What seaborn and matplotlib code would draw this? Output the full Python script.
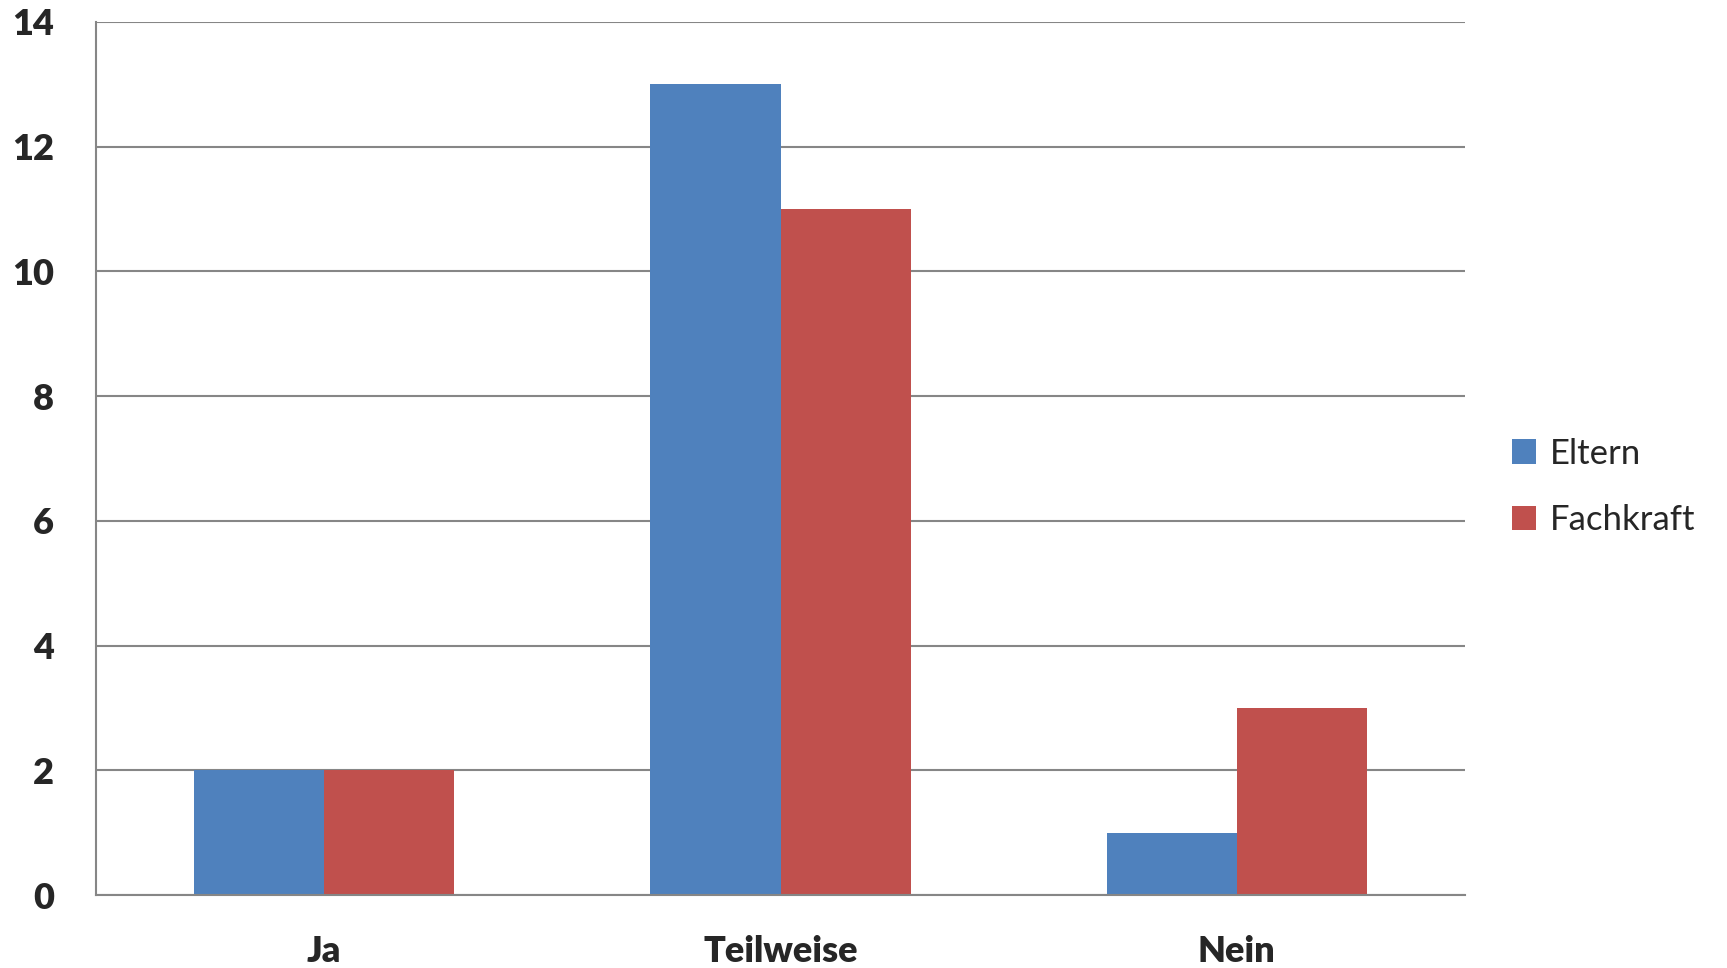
import matplotlib

matplotlib.use("Agg")
import matplotlib.pyplot as plt
import pandas as pd
import seaborn as sns
from matplotlib.ticker import FixedLocator

categories = ["Ja", "Teilweise", "Nein"]
series = ["Eltern", "Fachkraft"]
eltern = [2, 13, 1]
fachkraft = [2, 11, 3]
colors = ["#4F81BD", "#C0504D"]

df = pd.DataFrame(
    {
        "Antwort": categories * 2,
        "Gruppe": [series[0]] * 3 + [series[1]] * 3,
        "Anzahl": eltern + fachkraft,
    }
)

sns.set_style("white")
plt.rcParams["font.family"] = ["Lato", "DejaVu Sans"]

fig = plt.figure(figsize=(17.27, 9.68), dpi=100)
ax = fig.add_axes([0.0556, 0.0754, 0.7927, 0.9019])

sns.barplot(
    data=df,
    x="Antwort",
    y="Anzahl",
    hue="Gruppe",
    order=categories,
    hue_order=series,
    palette=colors,
    width=0.57,
    saturation=1,
    linewidth=0,
    ax=ax,
    zorder=3,
)

ax.set_xlim(-0.5, 2.5)
ax.set_ylim(0, 14)
ax.set_yticks(range(0, 15, 2))
ax.grid(axis="y", color="#868686", linewidth=1.5, zorder=0)
for side in ["top", "right"]:
    ax.spines[side].set_visible(False)
for side in ["left", "bottom"]:
    ax.spines[side].set_color("#868686")
    ax.spines[side].set_linewidth(1.5)
    ax.spines[side].set_zorder(4)

ax.set_xlabel("")
ax.set_ylabel("")
ax.tick_params(axis="y", which="major", length=10, width=1.5, color="#868686",
               pad=20, labelsize=26)
ax.tick_params(axis="x", which="major", length=0, pad=29, labelsize=26)
ax.xaxis.set_minor_locator(FixedLocator([-0.5, 0.5, 1.5, 2.5]))
ax.tick_params(axis="x", which="minor", length=10, width=1.5, color="#868686")
for lbl in ax.get_xticklabels() + ax.get_yticklabels():
    lbl.set_fontweight("heavy")

handles, labels = ax.get_legend_handles_labels()
ax.get_legend().remove()
fig.legend(
    handles,
    labels,
    loc="center left",
    bbox_to_anchor=(0.8575, 0.497),
    frameon=False,
    fontsize=25,
    handlelength=0.7,
    handleheight=0.7,
    handletextpad=0.4,
    labelspacing=1.0,
)

fig.savefig("out.png", dpi=100)
